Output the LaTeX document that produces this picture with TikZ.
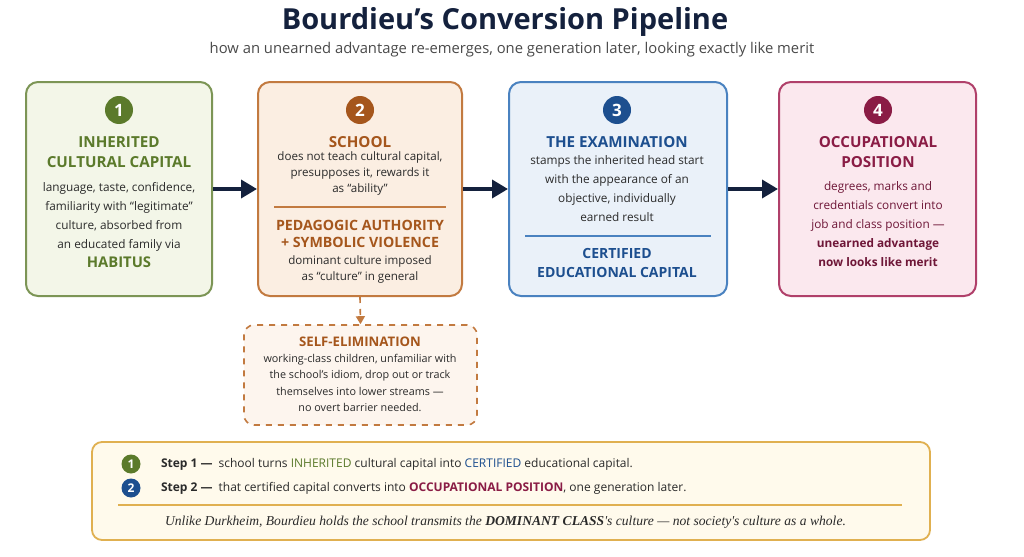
\documentclass[tikz,border=0pt]{standalone}
\usepackage{fontspec}
\setmainfont{Open Sans}
\newfontfamily\notefont{Liberation Serif}
\usetikzlibrary{arrows.meta,positioning}
\definecolor{navy}{HTML}{14213D}
\definecolor{grn}{HTML}{5B7A2B}\definecolor{grnfill}{HTML}{F3F6E8}
\definecolor{org}{HTML}{A5561C}\definecolor{orgline}{HTML}{C27A40}\definecolor{orgfill}{HTML}{FBEEE2}
\definecolor{blu}{HTML}{1D4F8F}\definecolor{bluline}{HTML}{4A82C0}\definecolor{blufill}{HTML}{EAF1F9}
\definecolor{mar}{HTML}{8A1C45}\definecolor{marline}{HTML}{B0406A}\definecolor{marfill}{HTML}{FBE8EE}
\definecolor{gold}{HTML}{E0B050}\definecolor{goldfill}{HTML}{FFFAEC}
\definecolor{body}{HTML}{2A2A2A}
\tikzset{
  card/.style={draw=#1, line width=1pt, rounded corners=6pt, minimum width=93pt, minimum height=107pt},
  num/.style={circle, fill=#1, text=white, font=\bfseries\fontsize{8.5}{9}\selectfont, minimum size=14pt, inner sep=0pt},
  head/.style={text=#1, font=\bfseries\fontsize{7.6}{10}\selectfont, align=center},
  txt/.style={text=body, font=\fontsize{5.9}{9.5}\selectfont, align=center},
  flow/.style={-{Triangle[length=8pt,width=9pt]}, navy, line width=1.8pt}
}
\begin{document}
\begin{tikzpicture}[x=0.5pt,y=-0.5pt]
  \useasboundingbox[fill=white] (0,0) rectangle (1024,557);
  % title
  \node[font=\bfseries\fontsize{14.5}{16}\selectfont, text=navy] (title) at (505,22) {Bourdieu\symbol{39}s Conversion Pipeline};
  \node[font=\fontsize{7.4}{9}\selectfont, text=body!85] (sub) at (512,50) {how an unearned advantage re-emerges, one generation later, looking exactly like merit};
  % four stages
  \node[card=grn!80, fill=grnfill] (inh) at (119,189) {};
  \node[card=orgline, fill=orgfill, minimum width=102pt] (sch) at (360,189) {};
  \node[card=bluline, fill=blufill, minimum width=109pt] (exa) at (618,189) {};
  \node[card=marline, fill=marfill, minimum width=98.5pt] (occ) at (877.5,189) {};
  \node[num=grn] at (119,110) {1};
  \node[num=org] at (360,110) {2};
  \node[num=blu] at (617,110) {3};
  \node[num=mar] at (878,110) {4};
  % stage 1
  \node[head=grn] at (119,152) {INHERITED\\CULTURAL CAPITAL};
  \node[txt] at (119,225) {language, taste, confidence,\\familiarity with “legitimate”\\culture, absorbed from\\an educated family via\\\textcolor{grn}{\bfseries\fontsize{7.4}{9}\selectfont HABITUS}};
  % stage 2
  \node[head=org] at (360,142) {SCHOOL};
  \node[txt, font=\fontsize{5.8}{8}\selectfont] at (360,173) {does not teach cultural capital,\\presupposes it, rewards it\\as “ability”};
  \draw[orgline, line width=0.6pt] (274,207) -- (446,207);
  \node[head=org, font=\bfseries\fontsize{7.1}{8.6}\selectfont] at (360,234) {PEDAGOGIC AUTHORITY\\+ SYMBOLIC VIOLENCE};
  \node[txt, font=\fontsize{5.8}{8}\selectfont] at (360,269) {dominant culture imposed\\as “culture” in general};
  % stage 3
  \node[head=blu] at (617,142) {THE EXAMINATION};
  \node[txt] at (617,189) {stamps the inherited head start\\with the appearance of an\\objective, individually\\earned result};
  \draw[bluline, line width=0.6pt] (525,236) -- (711,236);
  \node[head=blu, font=\bfseries\fontsize{7}{9.6}\selectfont] at (617,263) {CERTIFIED\\EDUCATIONAL CAPITAL};
  % stage 4
  \node[head=mar] at (878,152) {OCCUPATIONAL\\POSITION};
  \node[txt, text=mar!80!black] at (878,224) {degrees, marks and\\credentials convert into\\job and class position —\\\bfseries unearned advantage\\\bfseries now looks like merit};
  % arrows
  \draw[flow] (inh) -- (sch);
  \draw[flow] (sch) -- (exa);
  \draw[flow] (exa) -- (occ);
  % self-elimination
  \node[draw=orgline, dashed, line width=0.8pt, rounded corners=5pt, fill=orgfill!60, minimum width=116.5pt, minimum height=50pt] (elim) at (360.5,375) {};
  \draw[orgline, dashed, line width=0.8pt, -{Triangle[length=4pt,width=4.5pt]}] (sch.south) -- (elim.north);
  \node[head=org, font=\bfseries\fontsize{6.6}{8}\selectfont] at (360,342) {SELF-ELIMINATION};
  \node[txt, font=\fontsize{5.4}{8.2}\selectfont] at (360,383) {working-class children, unfamiliar with\\the school’s idiom, drop out or track\\themselves into lower streams —\\no overt barrier needed.};
  % summary
  \node[draw=gold, line width=0.9pt, rounded corners=5pt, fill=goldfill, minimum width=419pt, minimum height=49pt] (sum) at (511,491) {};
  \node[num=grn, minimum size=9.5pt, font=\bfseries\fontsize{6}{6}\selectfont] (s1) at (131,464) {1};
  \node[num=blu, minimum size=9.5pt, font=\bfseries\fontsize{6}{6}\selectfont] (s2) at (131,488) {2};
  \node[anchor=west, text=body, font=\fontsize{6}{7}\selectfont] at (154,464) {\textbf{Step 1 —}\enspace school turns \textcolor{grn}{INHERITED} cultural capital into \textcolor{blu}{CERTIFIED} educational capital.};
  \node[anchor=west, text=body, font=\fontsize{6}{7}\selectfont] at (154,488) {\textbf{Step 2 —}\enspace that certified capital converts into \textcolor{mar}{\bfseries OCCUPATIONAL POSITION}, one generation later.};
  \draw[gold, line width=0.6pt] (118,505) -- (902,505);
  \node[anchor=west, text=body, font=\notefont\itshape\fontsize{6.8}{8}\selectfont] at (158,522) {Unlike Durkheim, Bourdieu holds the school transmits the \textbf{DOMINANT CLASS}\symbol{39}s culture — not society\symbol{39}s culture as a whole.};
\end{tikzpicture}
\end{document}
